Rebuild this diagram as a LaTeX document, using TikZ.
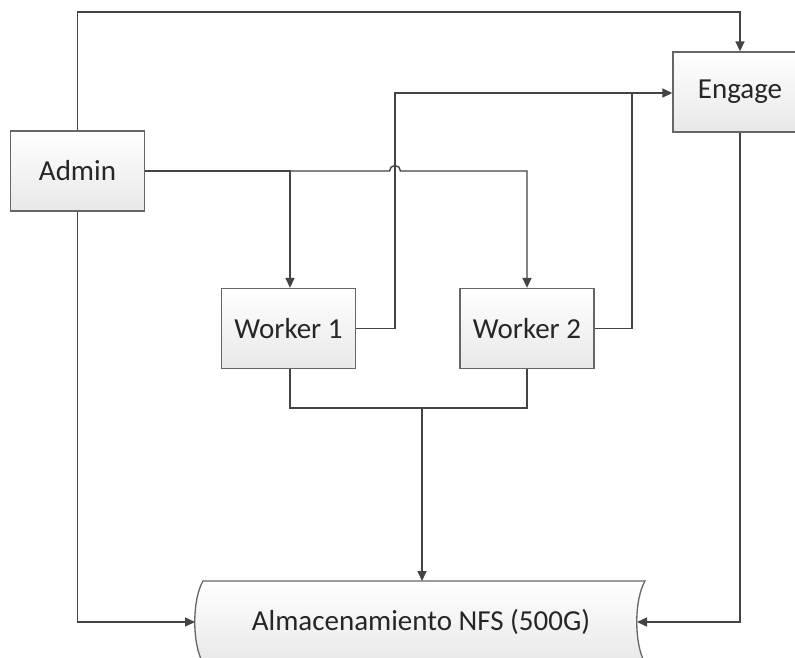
\documentclass[tikz,border=0pt]{standalone}
\usepackage{fontspec}
\setmainfont{Carlito}
\usetikzlibrary{arrows.meta,calc}
\definecolor{linec}{HTML}{444444}
\definecolor{boxc}{HTML}{666666}
\definecolor{txtc}{HTML}{262626}
\begin{document}
\begin{tikzpicture}[x=1pt,y=1pt,
  box/.style={draw=boxc,line width=1.3pt,top color=white,bottom color=black!9,
    minimum width=134pt,minimum height=80pt,inner sep=0pt,
    font=\fontsize{29}{32}\selectfont,text=txtc},
  conn/.style={draw=linec,line width=1.4pt},
  arr/.style={conn,-{Triangle[length=10pt,width=9pt]}}]
\useasboundingbox (0,0) rectangle (795,-657);
\fill[white] (0,0) rectangle (795,-657);
% nodes
\node[box] (admin) at (77.5,-171) {Admin};
\node[box] (engage) at (740,-92) {Engage};
\node[box] (w1) at (288.5,-328.5) {Worker 1};
\node[box] (w2) at (527,-328.5) {Worker 2};
\node[minimum width=450pt,minimum height=82pt,inner sep=0pt] (storage) at (420,-622) {};
% storage shape (stored data)
\path[draw=boxc,line width=1.3pt,top color=white,bottom color=black!9]
  (203,-581) -- (645,-581)
  .. controls (634,-600) and (634,-644) .. (645,-663)
  -- (203,-663)
  .. controls (192,-644) and (192,-600) .. (203,-581) -- cycle;
\node[font=\fontsize{29}{32}\selectfont,text=txtc] at (421,-622) {Almacenamiento NFS (500G)};
\coordinate (stR) at (637,-622);
\coordinate (stL) at (195,-622);
\coordinate (stT) at (422,-581);
% connectors
\draw[arr] (admin.north) -- (77.5,-12) -| (engage.north);
\draw[arr] (admin.east) -- (290,-171) -- (w1.north -| 290,0);
\draw[arr] (290,-171) -- (389.5,-171) arc[start angle=180,end angle=0,radius=5.5] -- (527,-171) -- (w2.north);
\draw[arr] (w1.east) -- (395,-328.5) -- (395,-93) -- (engage.west |- 0,-93);
\draw[conn] (w2.east) -- (632,-328.5) -- (632,-93);
\draw[conn] (w1.south -| 290,0) -- (290,-408) -- (527,-408) -- (w2.south);
\draw[arr] (422,-408) -- (stT);
\draw[arr] (admin.south) -- (77.5,-622) -- (stL);
\draw[arr] (engage.south) -- (740,-622) -- (stR);
\end{tikzpicture}
\end{document}
